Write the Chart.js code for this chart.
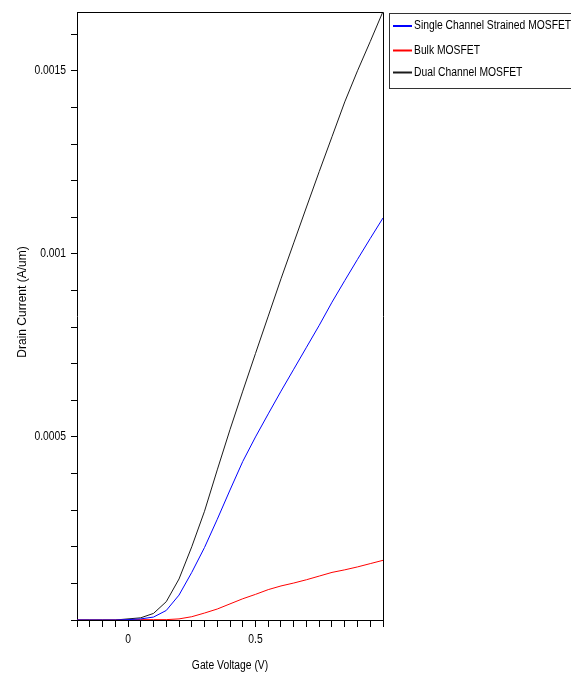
<!DOCTYPE html>
<html><head><meta charset="utf-8">
<script src="https://cdn.jsdelivr.net/npm/chart.js@4/dist/chart.umd.min.js"></script>
<style>html,body{margin:0;padding:0;background:#fff}canvas{display:block}</style>
</head><body>
<canvas id="c" width="571" height="673"></canvas>
<script>
// ---- data ----
const gateVoltage = [-0.2,-0.15,-0.1,-0.05,0,0.05,0.1,0.15,0.2,0.25,0.3,0.35,0.4,0.45,0.5,0.55,0.6,0.65,0.7,0.75,0.8,0.85,0.9,0.95,1.0];
const singleChannel = [0,0,0,0,0.000001,0.000003,0.000008,0.000026,0.000068,0.00013,0.000198,0.000275,0.000355,0.000433,0.0005,0.000563,0.000625,0.000685,0.000745,0.000805,0.000868,0.000927,0.000985,0.001042,0.001098];
const bulkMosfet = [0,0,0,0,0,0.000001,0.000001,0.000001,0.000003,0.000009,0.000019,0.00003,0.000044,0.000058,0.00007,0.000083,0.000093,0.000101,0.00011,0.00012,0.00013,0.000137,0.000145,0.000154,0.000163];
const dualChannel = [0,0,0,0,0.000003,0.000006,0.000018,0.00005,0.000112,0.0002,0.000297,0.00041,0.00052,0.000625,0.000728,0.00083,0.000932,0.00103,0.001128,0.001225,0.00132,0.001415,0.0015,0.00158,0.001662];
const seriesNames = ['Single Channel Strained MOSFET','Bulk MOSFET','Dual Channel MOSFET'];
const seriesColors = ['#0000ff','#ff0000','#1a1a1a'];
const xTickLabels = ['0','0.5'];
const yTickLabels = ['0.0005','0.001','0.0015'];
const xTitle = 'Gate Voltage (V)';
const yTitle = 'Drain Current (A/um)';

const FONT = "12px 'Liberation Sans',Arial,sans-serif";
const NARROW_SCALE = 0.86;

function toPoints(ys){ return gateVoltage.map((x,i)=>({x:x,y:ys[i]})); }
const seriesValues = [singleChannel, bulkMosfet, dualChannel];

function keepSteps(step){
  return function(scale){
    scale.ticks = scale.ticks.filter(t => Math.abs(t.value/step - Math.round(t.value/step)) < 1e-6);
  };
}
function narrowText(ctx, text, x, y, align, rot){
  ctx.save();
  ctx.translate(x, y);
  if (rot) ctx.rotate(rot);
  ctx.scale(NARROW_SCALE, 1);
  ctx.font = FONT; ctx.fillStyle = '#000';
  ctx.textAlign = align; ctx.textBaseline = 'middle';
  ctx.fillText(text, 0, 0);
  ctx.restore();
}

const decor = {
  id:'decor',
  afterDraw(chart){
    const ctx = chart.ctx, a = chart.chartArea;
    const xs = chart.scales.x, yS = chart.scales.y;
    ctx.save();
    // frame (top and right)
    ctx.strokeStyle = '#000'; ctx.lineWidth = 1;
    ctx.beginPath();
    ctx.moveTo(Math.round(a.left)+0.5, Math.round(a.top)+0.5);
    ctx.lineTo(Math.round(a.right)+0.5, Math.round(a.top)+0.5);
    ctx.lineTo(Math.round(a.right)+0.5, Math.round(a.bottom)+0.5);
    ctx.stroke();
    // tick labels
    xTickLabels.forEach(s => narrowText(ctx, s, xs.getPixelForValue(parseFloat(s)), 640, 'center'));
    yTickLabels.forEach(s => narrowText(ctx, s, 66, yS.getPixelForValue(parseFloat(s)), 'right'));
    // legend box
    ctx.strokeStyle = '#333'; ctx.lineWidth = 1;
    ctx.strokeRect(389.5, 13.5, 190, 75);
    const ys = [26, 50.5, 72.5];
    chart.data.datasets.forEach((ds,i)=>{
      ctx.strokeStyle = ds.borderColor; ctx.lineWidth = 2;
      ctx.beginPath(); ctx.moveTo(393, ys[i]); ctx.lineTo(412, ys[i]); ctx.stroke();
      narrowText(ctx, ds.label, 414, ys[i], 'left');
    });
    // axis titles
    narrowText(ctx, xTitle, 230, 666, 'center');
    ctx.font = FONT; ctx.fillStyle = '#000';
    ctx.textAlign = 'center'; ctx.textBaseline = 'middle';
    ctx.translate(23, 302);
    ctx.rotate(-Math.PI/2);
    ctx.fillText(yTitle, 0, 0);
    ctx.restore();
  }
};

new Chart(document.getElementById('c'), {
  type:'line',
  data:{
    datasets: seriesNames.map((n,i)=>({
      label:n, data:toPoints(seriesValues[i]), borderColor:seriesColors[i],
      backgroundColor:seriesColors[i], borderWidth:1, pointRadius:0, tension:0, fill:false
    }))
  },
  plugins:[decor],
  options:{
    responsive:false, devicePixelRatio:1, animation:false,
    layout:{padding:{top:12,right:188,left:0,bottom:0}},
    plugins:{legend:{display:false}, tooltip:{enabled:false}},
    scales:{
      x:{
        type:'linear', min:-0.2, max:1.0,
        afterBuildTicks: keepSteps(0.05),
        afterFit(s){ s.height = 53; },
        ticks:{stepSize:0.05, autoSkip:false, maxRotation:0, padding:5,
          color:'#000', font:{size:12}, callback:()=>''},
        grid:{drawOnChartArea:false, drawTicks:true, tickLength:7, color:'#000'},
        border:{display:true, color:'#000', width:1}
      },
      y:{
        type:'linear', min:0, max:0.00166,
        afterBuildTicks: keepSteps(0.0001),
        afterFit(s){ s.width = 77; },
        ticks:{stepSize:0.0001, autoSkip:false, padding:5,
          color:'#000', font:{size:12}, callback:()=>''},
        grid:{drawOnChartArea:false, drawTicks:true, tickLength:6, color:'#000'},
        border:{display:true, color:'#000', width:1}
      }
    }
  }
});
</script>
</body></html>
